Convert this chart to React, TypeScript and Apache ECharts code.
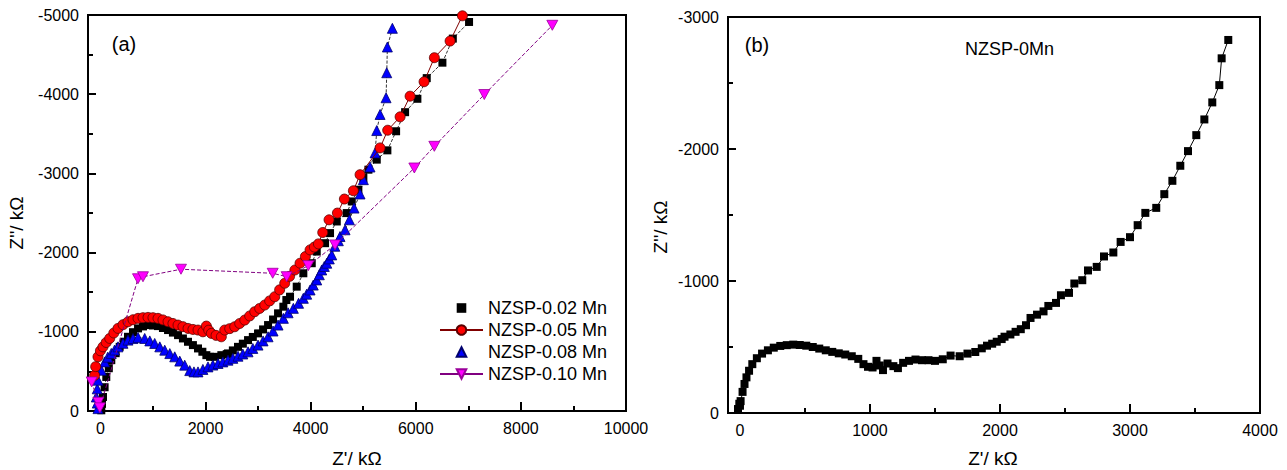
import React, { useEffect, useRef } from "react";
import * as echarts from "echarts";

// ---------- Panel (a) data: [Z', Z''] in kΩ ----------
const seriesNamesA = ["NZSP-0.02 Mn", "NZSP-0.05 Mn", "NZSP-0.08 Mn", "NZSP-0.10 Mn"];

const s002: number[][] = [
  [17, -9], [30, -90], [49, -177], [80, -300], [112, -430], [160, -540], [207, -642], [290, -730],
  [367, -810], [445, -875], [525, -937], [620, -995], [716, -1043], [810, -1068], [906, -1085],
  [1000, -1080], [1096, -1072], [1190, -1048], [1287, -1022], [1380, -990], [1477, -958],
  [1570, -916], [1667, -874], [1760, -832], [1857, -790], [1940, -748], [2016, -705], [2086, -684],
  [2175, -684], [2301, -705], [2403, -718], [2428, -727], [2520, -765], [2618, -810], [2710, -850],
  [2809, -895], [2900, -935], [2999, -980], [3095, -1030], [3190, -1085], [3285, -1155],
  [3380, -1233], [3481, -1317], [3538, -1401], [3608, -1443], [3735, -1570], [3861, -1739],
  [4021, -1866], [4116, -2013], [4274, -2119], [4369, -2246], [4497, -2393], [4687, -2499],
  [4782, -2646], [4908, -2794], [5003, -2942], [5099, -3047], [5258, -3174], [5460, -3291],
  [5626, -3532], [5797, -3773], [6031, -3942], [6209, -4203], [6507, -4398], [6705, -4702],
  [7014, -4912],
];

const s005: number[][] = [
  [-110, -450], [-90, -560], [-46, -684], [0, -760], [49, -810], [110, -865], [177, -916],
  [255, -985], [335, -1043], [430, -1090], [525, -1127], [620, -1152], [716, -1170], [810, -1178],
  [906, -1182], [1000, -1178], [1096, -1170], [1190, -1150], [1287, -1127], [1380, -1105],
  [1477, -1085], [1570, -1065], [1667, -1043], [1760, -1030], [1857, -1022], [1950, -1000],
  [2016, -1072], [2060, -1020], [2111, -980], [2200, -955], [2301, -937], [2365, -1022],
  [2460, -1040], [2555, -1064], [2650, -1105], [2746, -1148], [2840, -1200], [2936, -1254],
  [3030, -1295], [3127, -1338], [3220, -1390], [3317, -1443], [3410, -1530], [3507, -1613],
  [3600, -1700], [3700, -1780], [3798, -1866], [3900, -1950], [3989, -2034], [4070, -2070],
  [4148, -2110], [4230, -2254], [4350, -2414], [4509, -2499], [4642, -2676], [4813, -2781],
  [4940, -2984], [5321, -3322], [5466, -3545], [5702, -3714], [5892, -3975], [6158, -4157],
  [6354, -4461], [6653, -4671], [6888, -4990],
];

const s008: number[][] = [
  [-46, -30], [-60, -100], [-78, -177], [-60, -280], [-46, -389], [17, -515], [82, -620],
  [140, -680], [207, -727], [270, -770], [335, -810], [430, -855], [525, -895], [620, -915],
  [716, -929], [843, -916], [940, -885], [1033, -853], [1130, -810], [1224, -768], [1320, -725],
  [1414, -684], [1510, -630], [1604, -579], [1700, -510], [1780, -494], [1857, -494],
  [1950, -525], [2047, -557], [2140, -580], [2238, -600], [2330, -620], [2428, -642],
  [2520, -665], [2618, -692], [2710, -720], [2809, -747], [2900, -790], [2999, -832],
  [3095, -885], [3190, -937], [3285, -1010], [3380, -1085], [3481, -1170], [3571, -1240],
  [3671, -1296], [3770, -1360], [3861, -1423], [3925, -1475], [3989, -1528], [4050, -1590],
  [4116, -1655], [4165, -1720], [4211, -1781], [4260, -1825], [4307, -1866], [4355, -1920],
  [4402, -1971], [4460, -2080], [4527, -2150], [4559, -2203], [4655, -2288], [4737, -2414],
  [4826, -2562], [4940, -2740], [5003, -2921], [5130, -3081], [5226, -3259], [5258, -3541],
  [5321, -3744], [5435, -3955], [5448, -4271], [5460, -4596], [5555, -4832],
];

const s010: number[][] = [
  [-166, -367], [-40, -110], [-10, -40], [715, -1670], [810, -1695], [1533, -1790],
  [3278, -1739], [3544, -1696], [3956, -1835], [4464, -2097], [5973, -3068], [6353, -3342],
  [7304, -3996], [8598, -4870],
];

// ---------- Panel (b) data ----------
const s0Mn: number[][] = [
  [-15, -30], [-5, -70], [5, -90], [0, -55], [20, -160], [35, -220], [50, -270], [70, -320],
  [95, -370], [130, -415], [170, -450], [215, -475], [260, -495], [310, -508], [360, -514],
  [410, -518], [460, -515], [510, -510], [560, -500], [610, -488], [660, -475], [710, -463],
  [760, -452], [810, -443], [860, -430], [910, -410], [950, -370], [985, -350], [1020, -345],
  [1050, -395], [1075, -360], [1100, -325], [1135, -375], [1180, -355], [1215, -340],
  [1255, -380], [1300, -395], [1350, -405], [1400, -400], [1450, -400], [1500, -395],
  [1560, -407], [1620, -435], [1690, -430], [1750, -450], [1810, -462], [1860, -490],
  [1900, -510], [1940, -525], [1975, -540], [2013, -560], [2035, -578], [2080, -595],
  [2120, -615], [2160, -635], [2200, -665], [2235, -720], [2285, -745], [2335, -770],
  [2372, -811], [2431, -834], [2469, -892], [2531, -910], [2572, -981], [2633, -1006],
  [2677, -1080], [2744, -1107], [2800, -1186], [2872, -1216], [2928, -1296], [3000, -1332],
  [3059, -1423], [3118, -1516], [3202, -1554], [3264, -1658], [3326, -1759], [3387, -1873],
  [3446, -1984], [3510, -2105], [3572, -2224], [3633, -2353], [3687, -2484], [3705, -2687],
  [3756, -2826],
];

// ---------- Tick values ----------
const xTicksA = [0, 2000, 4000, 6000, 8000, 10000];
const xMinorA = [1000, 3000, 5000, 7000, 9000];
const xTicksB = [0, 1000, 2000, 3000, 4000];
const xMinorB = [500, 1500, 2500, 3500];

const FONT = "'Liberation Sans', Arial, Helvetica, sans-serif";
const INV_TRI = "path://M0,0 L10,0 L5,9 Z";

export default function App() {
  const ref = useRef<HTMLDivElement>(null);

  useEffect(() => {
    document.body.style.margin = "0";
    if (!ref.current) return;
    const chart = echarts.init(ref.current, undefined, { renderer: "svg" });

    const axisLineStyle = { show: true, onZero: false, lineStyle: { color: "#000", width: 2 } };
    const plain = (v: number) => String(v);
    const labelStyle = { color: "#000", fontSize: 16, fontFamily: FONT, formatter: plain };

    const mainX = (grid: number, min: number, max: number, ticks: number[]) => ({
      type: "value",
      gridIndex: grid,
      min,
      max,
      position: "bottom",
      axisLine: axisLineStyle,
      axisTick: { show: true, inside: true, length: 9, lineStyle: { color: "#000", width: 2 }, customValues: ticks },
      axisLabel: { ...labelStyle, margin: 9, customValues: ticks },
      splitLine: { show: false },
    });
    const minorX = (grid: number, min: number, max: number, ticks: number[]) => ({
      type: "value",
      gridIndex: grid,
      min,
      max,
      position: "bottom",
      axisLine: { show: false, onZero: false },
      axisTick: { show: true, inside: true, length: 5, lineStyle: { color: "#000", width: 2 }, customValues: ticks },
      axisLabel: { show: false },
      splitLine: { show: false },
    });
    const mainY = (grid: number, min: number, interval: number) => ({
      type: "value",
      gridIndex: grid,
      inverse: true,
      min,
      max: 0,
      interval,
      axisLine: axisLineStyle,
      axisTick: { show: true, inside: true, length: 8, lineStyle: { color: "#000", width: 2 } },
      minorTick: { show: true, splitNumber: 2, length: 5, lineStyle: { color: "#000", width: 2 } },
      axisLabel: { ...labelStyle, margin: 9 },
      splitLine: { show: false },
      minorSplitLine: { show: false },
    });

    const helperLine = (data: number[][]) => ({
      type: "line",
      name: "",
      xAxisIndex: 0,
      yAxisIndex: 0,
      data,
      showSymbol: false,
      symbol: "none",
      silent: true,
      lineStyle: { color: "#000", width: 0.8, type: "dashed" },
      z: 1,
    });

    const titleStyle = (text: string, size: number, align: string = "center") => ({
      text,
      fill: "#000",
      fontSize: size,
      fontFamily: FONT,
      textAlign: align,
      textVerticalAlign: "middle",
    });

    chart.setOption({
      animation: false,
      backgroundColor: "#fff",
      grid: [
        { left: 88, top: 15, width: 538, height: 396, show: true, borderColor: "#000", borderWidth: 2, backgroundColor: "transparent" },
        { left: 728, top: 17, width: 532, height: 396, show: true, borderColor: "#000", borderWidth: 2, backgroundColor: "transparent" },
      ],
      xAxis: [
        mainX(0, -236, 10000, xTicksA),
        mainX(1, -92, 4000, xTicksB),
        minorX(0, -236, 10000, xMinorA),
        minorX(1, -92, 4000, xMinorB),
      ],
      yAxis: [mainY(0, -5000, 1000), mainY(1, -3000, 1000)],
      legend: {
        data: seriesNamesA,
        orient: "vertical",
        left: 434,
        top: 294,
        itemWidth: 43,
        itemHeight: 12,
        itemGap: 4,
        textStyle: { color: "#000", fontSize: 18, fontFamily: FONT },
        lineStyle: { type: "solid" },
        selectedMode: false,
      },
      graphic: [
        { type: "text", x: 357, y: 458, style: titleStyle("Z'/ kΩ", 19) },
        { type: "text", x: 993, y: 458, style: titleStyle("Z'/ kΩ", 19) },
        { type: "text", x: 16, y: 223, rotation: Math.PI / 2, style: titleStyle("Z''/ kΩ", 19) },
        { type: "text", x: 660, y: 227, rotation: Math.PI / 2, style: titleStyle("Z''/ kΩ", 19) },
        { type: "text", x: 124, y: 44, style: titleStyle("(a)", 20) },
        { type: "text", x: 757, y: 45, style: titleStyle("(b)", 20) },
        { type: "text", x: 965, y: 49, style: titleStyle("NZSP-0Mn", 18, "left") },
      ],
      series: [
        helperLine(s002),
        helperLine(s008),
        {
          type: "line",
          name: seriesNamesA[0],
          xAxisIndex: 0,
          yAxisIndex: 0,
          data: s002,
          symbol: "rect",
          symbolSize: 8,
          showAllSymbol: true,
          itemStyle: { color: "#000" },
          lineStyle: { width: 0, opacity: 0 },
          z: 2,
        },
        {
          type: "line",
          name: seriesNamesA[2],
          xAxisIndex: 0,
          yAxisIndex: 0,
          data: s008,
          symbol: "triangle",
          symbolSize: 10,
          showAllSymbol: true,
          itemStyle: { color: "#0000ff", borderColor: "#00006e", borderWidth: 0.8 },
          lineStyle: { width: 0, opacity: 0 },
          z: 3,
        },
        {
          type: "line",
          name: seriesNamesA[1],
          xAxisIndex: 0,
          yAxisIndex: 0,
          data: s005,
          symbol: "circle",
          symbolSize: 10,
          showAllSymbol: true,
          itemStyle: { color: "#ff0000", borderColor: "#5a0000", borderWidth: 0.8 },
          lineStyle: { color: "#800000", width: 1 },
          z: 4,
        },
        {
          type: "line",
          name: seriesNamesA[3],
          xAxisIndex: 0,
          yAxisIndex: 0,
          data: s010,
          symbol: INV_TRI,
          symbolSize: [11, 10],
          showAllSymbol: true,
          itemStyle: { color: "#ff00ff", borderColor: "#9b009b", borderWidth: 0.8 },
          lineStyle: { color: "#800080", width: 1, type: "dashed" },
          z: 5,
        },
        {
          type: "line",
          name: "NZSP-0Mn",
          xAxisIndex: 1,
          yAxisIndex: 1,
          data: s0Mn,
          symbol: "rect",
          symbolSize: 8,
          showAllSymbol: true,
          itemStyle: { color: "#000" },
          lineStyle: { color: "#000", width: 1 },
        },
      ],
    });

    return () => chart.dispose();
  }, []);

  return <div ref={ref} style={{ width: 1287, height: 470 }} />;
}
